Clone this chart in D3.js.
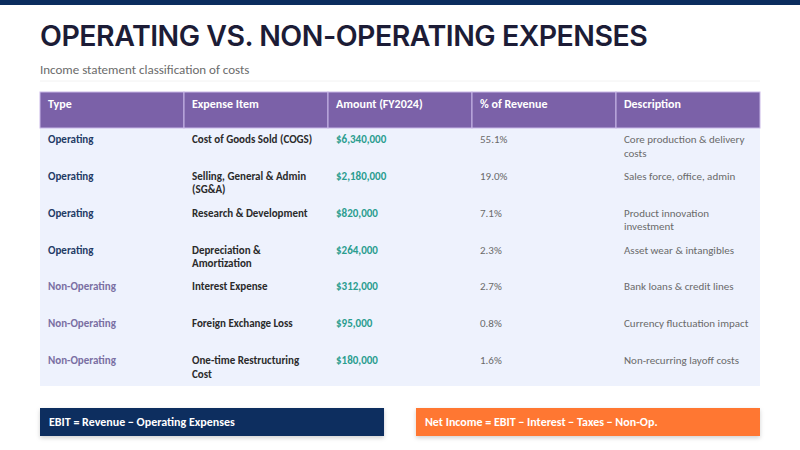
<!DOCTYPE html>
<html>
<head>
<meta charset="utf-8">
<script src="https://cdn.jsdelivr.net/npm/d3@7"></script>
<style>
  body { margin: 0; background: #ffffff; }
</style>
</head>
<body>
<div id="chart"></div>
<script>
// table data
var columns = ["Type", "Expense Item", "Amount (FY2024)", "% of Revenue", "Description"];
var types = ["Operating", "Operating", "Operating", "Operating", "Non-Operating", "Non-Operating", "Non-Operating"];
var items = ["Cost of Goods Sold (COGS)", "Selling, General & Admin (SG&A)", "Research & Development",
  "Depreciation & Amortization", "Interest Expense", "Foreign Exchange Loss", "One-time Restructuring Cost"];
var amounts = [6340000, 2180000, 820000, 264000, 312000, 95000, 180000];
var pctRevenue = [55.1, 19.0, 7.1, 2.3, 2.7, 0.8, 1.6];
var descriptions = ["Core production & delivery costs", "Sales force, office, admin", "Product innovation investment",
  "Asset wear & intangibles", "Bank loans & credit lines", "Currency fluctuation impact", "Non-recurring layoff costs"];
var formulas = ["EBIT = Revenue \u2212 Operating Expenses", "Net Income = EBIT \u2212 Interest \u2212 Taxes \u2212 Non-Op."];

var width = 800, height = 450;
var margin = { left: 40, right: 40 };
var bodyFont = "Carlito, Calibri, 'Noto Sans', sans-serif";

var svg = d3.select("#chart").append("svg")
  .attr("width", width)
  .attr("height", height);

var defs = svg.append("defs");
var shadow = defs.append("filter").attr("id", "shadow")
  .attr("x", "-5%").attr("y", "-30%").attr("width", "110%").attr("height", "180%");
shadow.append("feDropShadow").attr("dx", 0).attr("dy", 2).attr("stdDeviation", 2)
  .attr("flood-color", "#000").attr("flood-opacity", 0.18);

// top bar
svg.append("rect").attr("x", 0).attr("y", 0).attr("width", width).attr("height", 5).attr("fill", "#0b2d5e");

// title
svg.append("text")
  .attr("x", margin.left).attr("y", 46)
  .attr("font-family", "Inter, sans-serif")
  .attr("font-weight", 600)
  .attr("font-size", 28.5)
  .attr("letter-spacing", "-0.5px")
  .attr("fill", "#1c1c36")
  .text("OPERATING VS. NON-OPERATING EXPENSES");

svg.append("text")
  .attr("x", margin.left).attr("y", 74)
  .attr("font-family", bodyFont)
  .attr("font-size", 13)
  .attr("fill", "#6b6b6b")
  .text("Income statement classification of costs");

svg.append("line")
  .attr("x1", margin.left).attr("x2", width - margin.right)
  .attr("y1", 81).attr("y2", 81)
  .attr("stroke", "#f2f2f2").attr("stroke-width", 1);

// scales
var x = d3.scaleBand().domain(columns).range([margin.left, width - margin.right]);
var headerTop = 92, headerH = 36;
var rowIdx = d3.range(types.length);
var y = d3.scaleBand().domain(rowIdx).range([headerTop + headerH, 386]);

// body background
svg.append("rect")
  .attr("x", x.range()[0]).attr("y", y.range()[0])
  .attr("width", x.range()[1] - x.range()[0])
  .attr("height", y.range()[1] - y.range()[0])
  .attr("fill", "#eef2fd");

// header
svg.selectAll("rect.head").data(columns).enter().append("rect")
  .attr("class", "head")
  .attr("x", d => x(d)).attr("y", headerTop)
  .attr("width", x.bandwidth()).attr("height", headerH)
  .attr("fill", "#7b61a8")
  .attr("stroke", "#c9b8e8").attr("stroke-width", 1);

svg.selectAll("text.head").data(columns).enter().append("text")
  .attr("class", "head")
  .attr("x", d => x(d) + 8).attr("y", headerTop + 16)
  .attr("font-family", bodyFont)
  .attr("font-weight", "bold")
  .attr("font-size", 12)
  .attr("fill", "#ffffff")
  .text(d => d);

var fmt = d3.format("$,");
var rows = rowIdx.map(i => ({
  cells: [types[i], items[i], fmt(amounts[i]), pctRevenue[i].toFixed(1) + "%", descriptions[i]],
  op: types[i] === "Operating"
}));

var cellStyle = [
  (r) => ({ fill: r.op ? "#1f3b66" : "#7a6fa3", weight: "bold" }),
  (r) => ({ fill: "#2b2b2b", weight: "bold" }),
  (r) => ({ fill: "#2a9d8f", weight: "bold" }),
  (r) => ({ fill: "#6a6a6a", weight: "normal" }),
  (r) => ({ fill: "#6a6a6a", weight: "normal" })
];

var gRows = svg.selectAll("g.row").data(rows).enter().append("g")
  .attr("class", "row")
  .attr("transform", (d, i) => "translate(0," + y(i) + ")");

gRows.each(function(r) {
  var g = d3.select(this);
  r.cells.forEach(function(c, ci) {
    var st = cellStyle[ci](r);
    var t = g.append("text")
      .attr("x", x(columns[ci]) + 8)
      .attr("y", 15)
      .attr("font-family", bodyFont)
      .attr("font-size", 11)
      .attr("font-weight", st.weight)
      .attr("fill", st.fill)
      .text(c);
    wrap(t, 128);
  });
});

function wrap(text, w) {
  var words = text.text().split(/\s+/).reverse(),
    word, line = [], lineNumber = 0,
    xx = text.attr("x"), yy = text.attr("y"),
    tspan = text.text(null).append("tspan").attr("x", xx).attr("y", yy);
  while ((word = words.pop())) {
    line.push(word);
    tspan.text(line.join(" "));
    if (tspan.node().getComputedTextLength() > w && line.length > 1) {
      line.pop();
      tspan.text(line.join(" "));
      line = [word];
      tspan = text.append("tspan").attr("x", xx).attr("y", +yy + (++lineNumber) * 13.5).text(word);
    }
  }
}

// formula boxes
var fx = d3.scaleBand().domain(formulas).range([margin.left, width - margin.right]).paddingInner(0.085);
var boxColors = ["#0b2d5e", "#ff7733"];

svg.selectAll("rect.formula").data(formulas).enter().append("rect")
  .attr("class", "formula")
  .attr("x", d => fx(d)).attr("y", 408)
  .attr("width", fx.bandwidth()).attr("height", 28)
  .attr("fill", (d, i) => boxColors[i])
  .attr("filter", "url(#shadow)");

svg.selectAll("text.formula").data(formulas).enter().append("text")
  .attr("class", "formula")
  .attr("x", d => fx(d) + 9).attr("y", 426)
  .attr("font-family", bodyFont)
  .attr("font-weight", "bold")
  .attr("font-size", 12)
  .attr("fill", "#ffffff")
  .text(d => d);
</script>
</body>
</html>
